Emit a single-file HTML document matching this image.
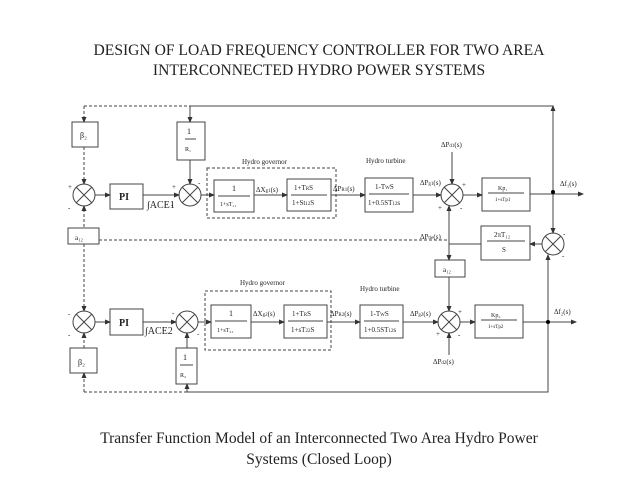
<!DOCTYPE html>
<html><head><style>
body{margin:0;background:#fff;width:638px;height:479px;overflow:hidden}
svg{display:block}
text{font-family:"Liberation Serif",serif;fill:#222}
</style></head><body>
<svg width="638" height="479" viewBox="0 0 638 479">
<defs>
<marker id="a" markerWidth="6" markerHeight="6" refX="5" refY="3" orient="auto"><path d="M0,0.5 L6,3 L0,5.5z" fill="#333"/></marker>
</defs>
<text x="319" y="55" font-size="15.6" text-anchor="middle">DESIGN OF LOAD FREQUENCY CONTROLLER FOR TWO AREA</text>
<text x="319" y="75" font-size="15.6" text-anchor="middle">INTERCONNECTED HYDRO POWER SYSTEMS</text>
<text x="319" y="443" font-size="15.5" text-anchor="middle">Transfer Function Model of an Interconnected Two Area Hydro Power</text>
<text x="319" y="464" font-size="15.5" text-anchor="middle">Systems (Closed Loop)</text>

<g stroke="#444" stroke-width="1" fill="none">
<path d="M84,106 H190" stroke-dasharray="3,2"/>
<path d="M190,106 H553 V192"/>
<path d="M553,192 V106" marker-end="url(#a)"/>
<path d="M84,106 V122" stroke-dasharray="3,2" marker-end="url(#a)"/>
<path d="M190,106 V122" marker-end="url(#a)"/>
<path d="M84,147 V184" stroke-dasharray="3,2" marker-end="url(#a)"/>
<path d="M84,227 V206" stroke-dasharray="3,2" marker-end="url(#a)"/>
<path d="M190,160 V184" marker-end="url(#a)"/>
<rect x="72" y="122" width="26" height="25"/>
<rect x="177" y="122" width="28" height="38"/>
<rect x="110" y="184" width="33" height="25"/>
<rect x="207" y="168" width="129" height="50" stroke-dasharray="3,2"/>
<rect x="214" y="180" width="40" height="32"/>
<rect x="287" y="179" width="44" height="32"/>
<rect x="365" y="178" width="48" height="34"/>
<rect x="482" y="178" width="48" height="33"/>
<circle cx="84" cy="195" r="11"/><path d="M76,187 L92,203 M92,187 L76,203"/>
<circle cx="190" cy="195" r="11"/><path d="M182,187 L198,203 M198,187 L182,203"/>
<circle cx="452" cy="195" r="11"/><path d="M444,187 L460,203 M460,187 L444,203"/>
<path d="M95,195 H110" marker-end="url(#a)"/>
<path d="M143,195 H179" marker-end="url(#a)"/>
<path d="M201,195 H214" marker-end="url(#a)"/>
<path d="M254,195 H287" marker-end="url(#a)"/>
<path d="M331,195 H365" marker-end="url(#a)"/>
<path d="M413,195 H441" marker-end="url(#a)"/>
<path d="M463,195 H482" marker-end="url(#a)"/>
<path d="M530,194 H583" marker-end="url(#a)"/>
<path d="M452,152 V184" marker-end="url(#a)"/>
<rect x="68" y="228" width="31" height="16"/>
<path d="M99,240 H449" stroke-dasharray="3,2"/>
<path d="M449,244 H481"/>
<rect x="481" y="226" width="49" height="34"/>
<circle cx="553" cy="244" r="11"/><path d="M545,236 L561,252 M561,236 L545,252"/>
<path d="M553,192 V233" marker-end="url(#a)"/>
<path d="M542,244 H530" marker-end="url(#a)"/>
<path d="M449,244 V206" marker-end="url(#a)"/>
<path d="M449,244 V260" marker-end="url(#a)"/>
<rect x="435" y="260" width="30" height="17"/>
<path d="M449,277 V311" marker-end="url(#a)"/>
<path d="M548,322 V255" marker-end="url(#a)"/>
<path d="M84,244 V311" stroke-dasharray="3,2" marker-end="url(#a)"/>
<rect x="110" y="309" width="33" height="26"/>
<rect x="205" y="291" width="126" height="59" stroke-dasharray="3,2"/>
<rect x="211" y="305" width="40" height="33"/>
<rect x="284" y="305" width="43" height="33"/>
<rect x="360" y="305" width="43" height="33"/>
<rect x="475" y="305" width="48" height="33"/>
<rect x="70" y="348" width="27" height="25"/>
<rect x="176" y="348" width="21" height="36"/>
<circle cx="84" cy="322" r="11"/><path d="M76,314 L92,330 M92,314 L76,330"/>
<circle cx="187" cy="322" r="11"/><path d="M179,314 L195,330 M195,314 L179,330"/>
<circle cx="449" cy="322" r="11"/><path d="M441,314 L457,330 M457,314 L441,330"/>
<path d="M95,322 H110" marker-end="url(#a)"/>
<path d="M143,322 H176" marker-end="url(#a)"/>
<path d="M198,322 H211" marker-end="url(#a)"/>
<path d="M251,322 H284" marker-end="url(#a)"/>
<path d="M327,322 H360" marker-end="url(#a)"/>
<path d="M403,322 H438" marker-end="url(#a)"/>
<path d="M460,322 H475" marker-end="url(#a)"/>
<path d="M523,322 H576" marker-end="url(#a)"/>
<path d="M449,355 V333" marker-end="url(#a)"/>
<path d="M84,348 V333" stroke-dasharray="3,2" marker-end="url(#a)"/>
<path d="M187,348 V333" marker-end="url(#a)"/>
<path d="M548,322 V392 H187"/>
<path d="M187,392 H84" stroke-dasharray="3,2"/>
<path d="M187,392 V384" marker-end="url(#a)"/>
<path d="M84,392 V373" stroke-dasharray="3,2" marker-end="url(#a)"/>
</g>
<circle cx="553" cy="192" r="2" fill="#000"/>
<circle cx="548" cy="322" r="2" fill="#000"/>

<g font-size="8">
<text x="80" y="138">β₂</text>
<text x="187" y="134">1</text><path d="M185,139 H196" stroke="#444"/><text x="185" y="151" font-size="6">R₁</text>
<text x="119" y="200" font-size="10" font-weight="bold">PI</text>
<text x="147" y="208" font-size="10">∫ACE1</text>
<text x="242" y="164" font-size="7">Hydro governor</text>
<text x="232" y="191">1</text><path d="M218,196 H250" stroke="#444"/><text x="220" y="206" font-size="6">1+sT₁₁</text>
<text x="256" y="192" font-size="7">ΔX<tspan font-size="5">g1</tspan>(s)</text>
<text x="294" y="190" font-size="7">1+T<tspan font-size="5">R</tspan>S</text><path d="M291,195 H327" stroke="#444"/><text x="292" y="205" font-size="7">1+St<tspan font-size="5">12</tspan>S</text>
<text x="333" y="191" font-size="7">ΔP<tspan font-size="5">R1</tspan>(s)</text>
<text x="366" y="163" font-size="7">Hydro turbine</text>
<text x="375" y="189" font-size="7">1-T<tspan font-size="5">W</tspan>S</text><path d="M369,194 H409" stroke="#444"/><text x="368" y="205" font-size="7">1+0.5ST<tspan font-size="5">12</tspan>s</text>
<text x="420" y="185" font-size="7">ΔP<tspan font-size="5">g1</tspan>(s)</text>
<text x="441" y="147" font-size="7">ΔP<tspan font-size="5">d1</tspan>(s)</text>
<text x="498" y="190" font-size="6">Kp₁</text><path d="M488,193 H524" stroke="#444"/><text x="495" y="201" font-size="5">1+sT<tspan>p1</tspan></text>
<text x="560" y="186" font-size="7">Δf₁(s)</text>
<text x="75" y="240" font-size="7">a₁₂</text>
<text x="420" y="239" font-size="7">ΔP<tspan font-size="5">tie</tspan>(s)</text>
<text x="494" y="237" font-size="7">2πT₁₂</text><path d="M487,241 H525" stroke="#444"/><text x="502" y="252" font-size="7">S</text>
<text x="443" y="272" font-size="7">a₁₂</text>
<text x="119" y="326" font-size="10" font-weight="bold">PI</text>
<text x="145" y="334" font-size="10">∫ACE2</text>
<text x="240" y="285" font-size="7">Hydro governor</text>
<text x="360" y="291" font-size="7">Hydro turbine</text>
<text x="229" y="316">1</text><path d="M215,321 H247" stroke="#444"/><text x="217" y="332" font-size="6">1+sT₂₁</text>
<text x="253" y="316" font-size="7">ΔX<tspan font-size="5">g2</tspan>(s)</text>
<text x="292" y="316" font-size="7">1+T<tspan font-size="5">R</tspan>S</text><path d="M288,321 H323" stroke="#444"/><text x="291" y="332" font-size="7">1+sT<tspan font-size="5">22</tspan>S</text>
<text x="330" y="316" font-size="7">ΔP<tspan font-size="5">R2</tspan>(s)</text>
<text x="370" y="316" font-size="7">1-T<tspan font-size="5">W</tspan>S</text><path d="M364,321 H399" stroke="#444"/><text x="364" y="332" font-size="7">1+0.5ST<tspan font-size="5">12</tspan>s</text>
<text x="410" y="316" font-size="7">ΔP<tspan font-size="5">g2</tspan>(s)</text>
<text x="491" y="317" font-size="6">Kp₂</text><path d="M481,320 H517" stroke="#444"/><text x="488" y="328" font-size="5">1+sT<tspan>p2</tspan></text>
<text x="554" y="314" font-size="7">Δf₂(s)</text>
<text x="433" y="364" font-size="7">ΔP<tspan font-size="5">d2</tspan>(s)</text>
<text x="78" y="365">β₂</text>
<text x="183" y="360">1</text><path d="M180,365 H193" stroke="#444"/><text x="180" y="377" font-size="6">R₂</text>
</g>
<g font-size="7">
<text x="68" y="189">+</text><text x="68" y="210">-</text>
<text x="172" y="189">+</text><text x="198" y="185">-</text><text x="171" y="207">-</text>
<text x="462" y="187">+</text><text x="438" y="210">+</text><text x="460" y="210">-</text>
<text x="563" y="236">-</text><text x="562" y="258">-</text>
<text x="68" y="316">-</text><text x="68" y="337">-</text>
<text x="172" y="315">-</text><text x="197" y="336">-</text>
<text x="458" y="314">+</text><text x="436" y="336">+</text><text x="458" y="337">-</text>
</g>
</svg>
</body></html>
